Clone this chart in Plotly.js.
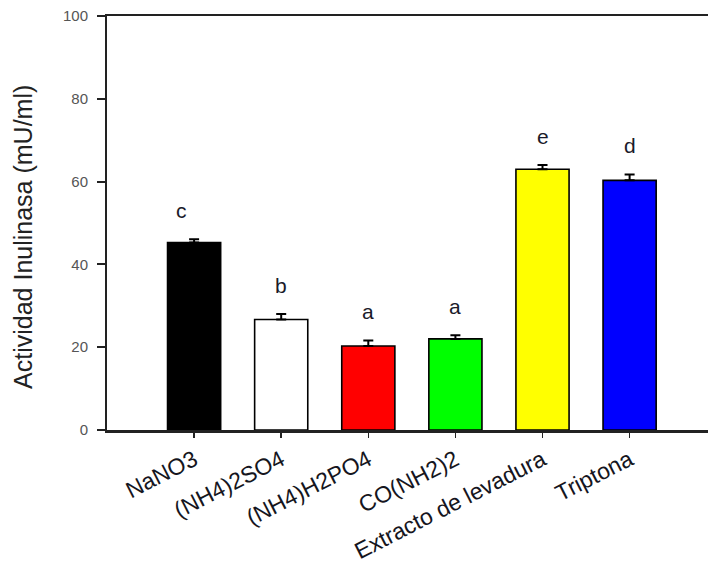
<!DOCTYPE html>
<html>
<head>
<meta charset="utf-8">
<script src="https://cdn.plot.ly/plotly-3.0.1.min.js"></script>
<style>html,body{margin:0;padding:0;background:#fff;}#chart{width:708px;height:564px;}</style>
</head>
<body>
<div id="chart"></div>
<script>
const categories = ["NaNO3", "(NH4)2SO4", "(NH4)H2PO4", "CO(NH2)2", "Extracto de levadura", "Triptona"];
const values = [45.3, 26.7, 20.3, 22.0, 63.0, 60.3];
const errors = [0.8, 1.3, 1.3, 0.9, 1.0, 1.4];
const letters = ["c", "b", "a", "a", "e", "d"];
const barColors = ["#000000", "#ffffff", "#ff0000", "#00ff00", "#ffff00", "#0000ff"];
const yTicks = [0, 20, 40, 60, 80, 100];
const yTitle = "Actividad Inulinasa (mU/ml)";

const xIdx = categories.map((_, i) => i);

const trace = {
  type: "bar",
  x: xIdx,
  y: values,
  marker: { color: barColors, line: { color: "#000", width: 1.6 } },
  error_y: { type: "data", array: errors, arrayminus: errors.map(() => 0), symmetric: false,
             visible: true, color: "#000", thickness: 2, width: 5 },
  hoverinfo: "none"
};

const annotations = letters.map((t, i) => ({
  x: i, y: values[i] + errors[i] + 7, xref: "x", yref: "y",
  text: t, showarrow: false, xanchor: "center", yanchor: "middle",
  xshift: i === 0 ? -13 : 0,
  font: { family: "Liberation Sans, Arial, sans-serif", size: 21, color: "#1a1a2a" }
}));

annotations.push({
  xref: "paper", yref: "paper", x: -0.14, y: 0.466,
  text: yTitle, textangle: -90, showarrow: false,
  xanchor: "center", yanchor: "middle",
  font: { family: "Liberation Sans, Arial, sans-serif", size: 25, color: "#222" }
});

const layout = {
  width: 708, height: 564,
  margin: { l: 107, r: 0, t: 16, b: 134, pad: 0 },
  paper_bgcolor: "#fff", plot_bgcolor: "#fff",
  showlegend: false,
  bargap: 0.39,
  font: { family: "Liberation Sans, Arial, sans-serif" },
  xaxis: {
    range: [-1, 5.9], tickmode: "array", tickvals: xIdx, ticktext: categories,
    tickangle: -27, ticks: "outside", ticklen: 5, tickwidth: 1.5, tickcolor: "#222",
    showline: true, linecolor: "#222", linewidth: 2.5, mirror: true,
    showgrid: false, zeroline: false, automargin: false,
    tickfont: { size: 23, color: "#151520" }
  },
  yaxis: {
    range: [0, 100], tickmode: "array", tickvals: yTicks, ticktext: yTicks.map(String),
    ticks: "outside", ticklen: 8, tickwidth: 2, tickcolor: "#222",
    ticklabelstandoff: 6,
    showline: true, linecolor: "#222", linewidth: 2, mirror: false,
    showgrid: false, zeroline: false, automargin: false,
    tickfont: { size: 15, color: "#555" }
  },
  annotations: annotations
};

Plotly.newPlot("chart", [trace], layout, { staticPlot: true, displayModeBar: false });
</script>
</body>
</html>
